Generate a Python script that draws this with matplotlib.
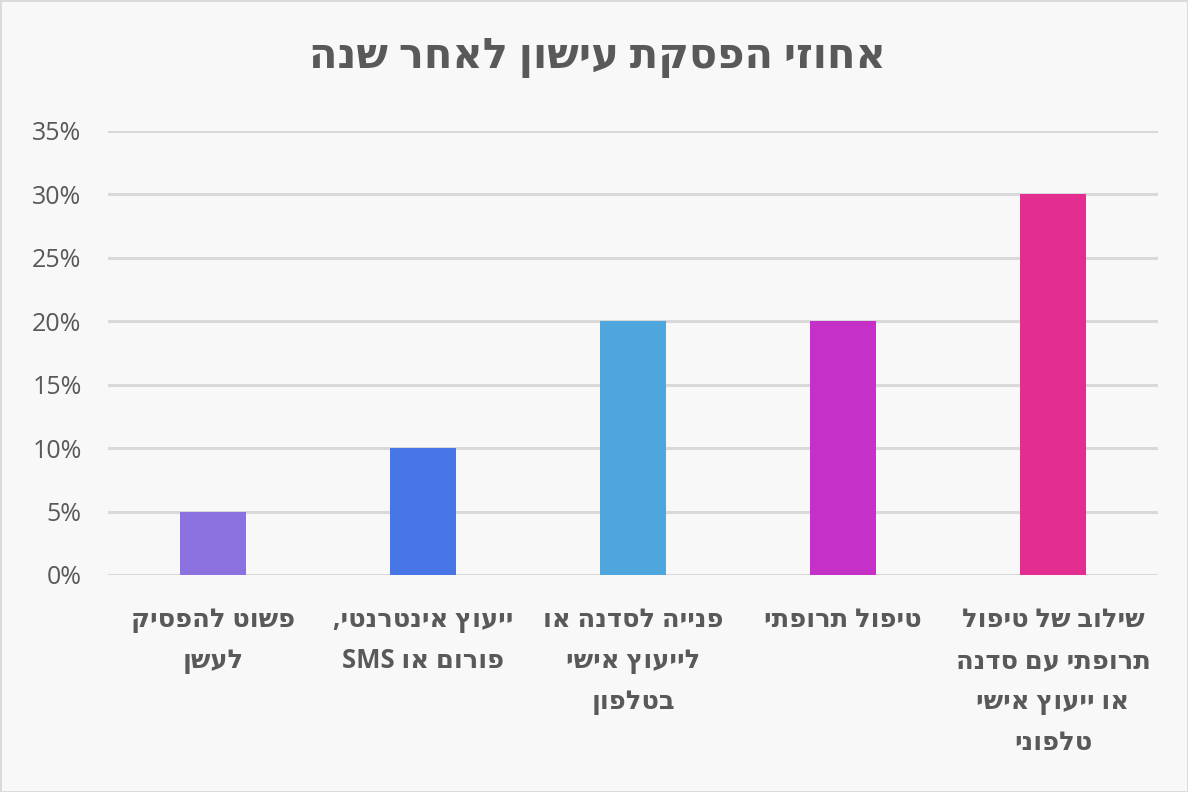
import matplotlib
matplotlib.use("Agg")
import matplotlib.pyplot as plt
from matplotlib.patches import Rectangle
from matplotlib.ticker import PercentFormatter

plt.rcParams['font.family'] = ['Open Sans', 'DejaVu Sans']

# Data (left to right as shown)
categories = [
    ["פשוט להפסיק", "לעשן"],
    ["ייעוץ אינטרנטי,", "פורום או SMS"],
    ["פנייה לסדנה או", "לייעוץ אישי", "בטלפון"],
    ["טיפול תרופתי"],
    ["שילוב של טיפול", "תרופתי עם סדנה", "או ייעוץ אישי", "טלפוני"],
]
values = [5, 10, 20, 20, 30]
colors = ["#8B72E0", "#4876E6", "#4FA6DC", "#C530C8", "#E42D90"]
title = "אחוזי הפסקת עישון לאחר שנה"
yticks = [0, 5, 10, 15, 20, 25, 30, 35]


def rtl(s):
    return s[::-1]


bg = "#F8F8F8"
txt = "#595959"
grid = "#D9D9D9"

fig = plt.figure(figsize=(11.88, 7.92), dpi=100, facecolor=bg)
ax = fig.add_axes([108 / 1188, 1 - 575 / 792, (1158 - 108) / 1188, (575 - 131) / 792])
ax.set_facecolor(bg)

x = list(range(len(values)))
ax.bar(x, values, width=0.315, color=colors, zorder=3)
ax.set_xlim(-0.5, len(values) - 0.5)
ax.set_ylim(0, 35)
ax.set_yticks(yticks)
ax.yaxis.set_major_formatter(PercentFormatter(decimals=0))
ax.grid(axis='y', color=grid, linewidth=2.2, zorder=0)
for s in ax.spines.values():
    s.set_visible(False)
ax.tick_params(axis='y', length=0, pad=19, labelsize=18, labelcolor=txt)
ax.tick_params(axis='x', length=0, pad=22)
ax.set_xticks(x)
ax.set_xticklabels(["\n".join(rtl(l) for l in c) for c in categories],
                   fontsize=18.5, fontweight='bold', color=txt,
                   linespacing=1.68, va='top', ha='center')

fig.text(597 / 1188, 1 - 57 / 792, rtl(title), ha='center', va='center',
         fontsize=30, fontweight='bold', color=txt)

fig.patches.append(Rectangle((0, 0), 1, 1, transform=fig.transFigure,
                             fill=False, edgecolor=grid, linewidth=2))

fig.savefig("out.png", dpi=100, facecolor=bg)
